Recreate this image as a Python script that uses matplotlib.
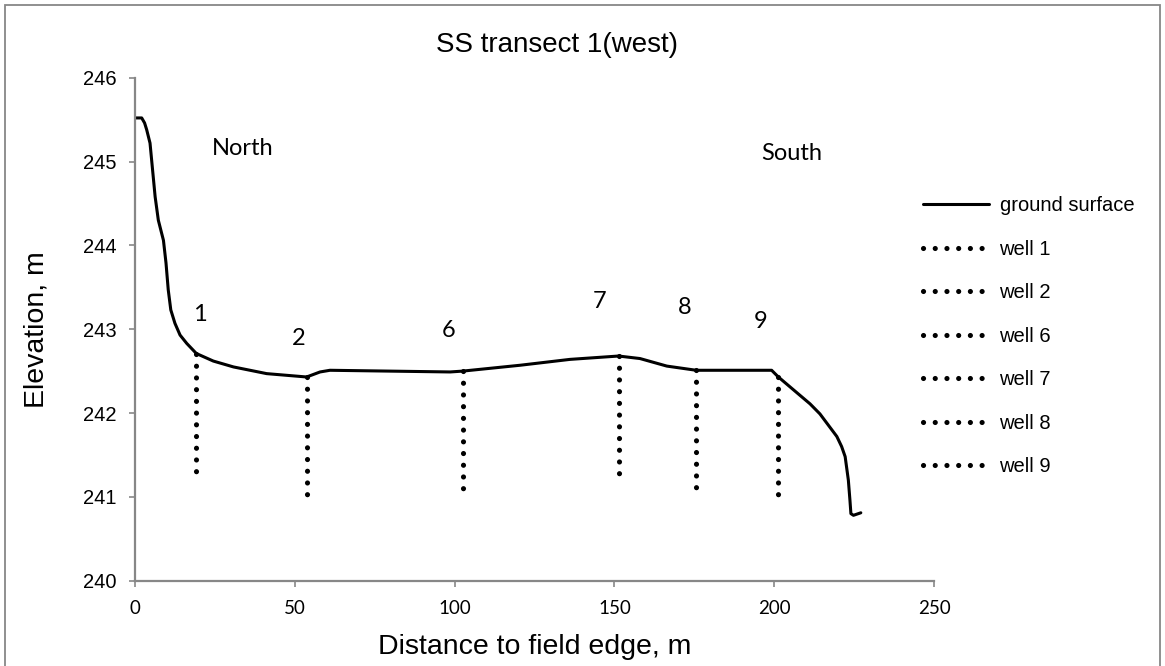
import matplotlib
matplotlib.use('Agg')
import matplotlib.pyplot as plt
from matplotlib.patches import Rectangle

# ground surface profile along the transect (distance m, elevation m)
dist = [0, 2.1, 3.0, 3.65, 4.7, 5.5, 6.3, 7.3, 8.9, 9.7, 10.4, 11.2, 12.5,
        14.1, 16.2, 19.2, 24.5, 30.8, 41.2, 53.7, 57.9, 61.0, 98.6, 102.5,
        120.5, 136.1, 151.3, 158.0, 166.4, 175.6, 199.2, 201.3, 208.1, 211.2,
        214.3, 219.6, 221.1, 222.2, 223.2, 223.7, 224.0, 224.8, 227.1]
elev = [245.52, 245.52, 245.46, 245.38, 245.22, 244.90, 244.58, 244.30, 244.06,
        243.79, 243.47, 243.23, 243.07, 242.93, 242.83, 242.71, 242.62, 242.55,
        242.47, 242.43, 242.49, 242.51, 242.49, 242.50, 242.57, 242.64, 242.68,
        242.65, 242.56, 242.51, 242.51, 242.43, 242.21, 242.11, 241.99, 241.72,
        241.60, 241.48, 241.20, 240.96, 240.80, 240.78, 240.81]

# wells: position, top (ground) and bottom elevation
well_names = ['1', '2', '6', '7', '8', '9']
well_x = [19.2, 53.8, 102.5, 151.3, 175.6, 201.3]
well_top = [242.70, 242.43, 242.50, 242.68, 242.51, 242.43]
well_bot = [241.28, 241.01, 241.08, 241.27, 241.09, 241.01]
# where the well numbers are written
num_x = [20.3, 51.1, 98.1, 145.5, 171.9, 195.8]
num_y = [243.17, 242.89, 242.98, 243.33, 243.26, 243.09]

grey = '#878787'
W, H = 1165, 666
fig = plt.figure(figsize=(W / 100, H / 100), dpi=100)
fig.patches.append(Rectangle((5 / W, -0.01), 1155 / W, 1 - 5 / H + 0.01,
                             transform=fig.transFigure, fill=False,
                             edgecolor=grey, linewidth=1.3))

ax = fig.add_axes([135 / W, 1 - 580.7 / H, 799 / W, 503 / H])
ax.plot(dist, elev, color='black', linewidth=2.2, label='ground surface',
        solid_joinstyle='round', solid_capstyle='round')
for name, x, top, bot in zip(well_names, well_x, well_top, well_bot):
    ax.plot([x, x], [top, bot], color='black', linewidth=3.7,
            linestyle=(0, (0.01, 2.27)), dash_capstyle='round',
            label='well ' + name)
for name, x, y in zip(well_names, num_x, num_y):
    ax.text(x, y, name, fontsize=17, family='Lato', ha='center', va='center')
ax.text(33.7, 245.15, 'North', fontsize=17, family='Lato', ha='center', va='center')
ax.text(205.6, 245.10, 'South', fontsize=17, family='Lato', ha='center', va='center')

ax.set_xlim(0, 250)
ax.set_ylim(240, 246)
ax.set_xticks([0, 50, 100, 150, 200, 250])
ax.set_yticks([240, 241, 242, 243, 244, 245, 246])
for s in ['top', 'right']:
    ax.spines[s].set_visible(False)
for s in ['left', 'bottom']:
    ax.spines[s].set_color(grey)
    ax.spines[s].set_linewidth(1.6)
ax.tick_params(axis='both', color=grey, width=1.2, length=4)
ax.tick_params(axis='x', pad=10)
ax.tick_params(axis='y', pad=9)
for t in ax.get_xticklabels():
    t.set_family('Lato')
    t.set_fontsize(13.5)
for t in ax.get_yticklabels():
    t.set_family('Liberation Sans')
    t.set_fontsize(14.5)

ax.set_xlabel('Distance to field edge, m', fontsize=20.5, family='Liberation Sans')
ax.xaxis.set_label_coords(0.5, -(647 - 580.7) / 503)
ax.xaxis.label.set_va('center')
ax.set_ylabel('Elevation, m', fontsize=20.5, family='Liberation Sans')
ax.yaxis.set_label_coords(-(135 - 37) / 799, 0.5)
ax.yaxis.label.set_va('center')

fig.text(557 / W, 1 - 45 / H, 'SS transect 1(west)', fontsize=20,
         family='Liberation Sans', ha='center', va='center')

fig.legend(loc='upper left', bbox_to_anchor=(923 / W, 1 - 196 / H),
           frameon=False, prop={'family': 'Liberation Sans', 'size': 14.5},
           handlelength=3.3, handletextpad=0.5, labelspacing=1.22,
           borderpad=0, borderaxespad=0)

fig.savefig('out.png', dpi=100)
